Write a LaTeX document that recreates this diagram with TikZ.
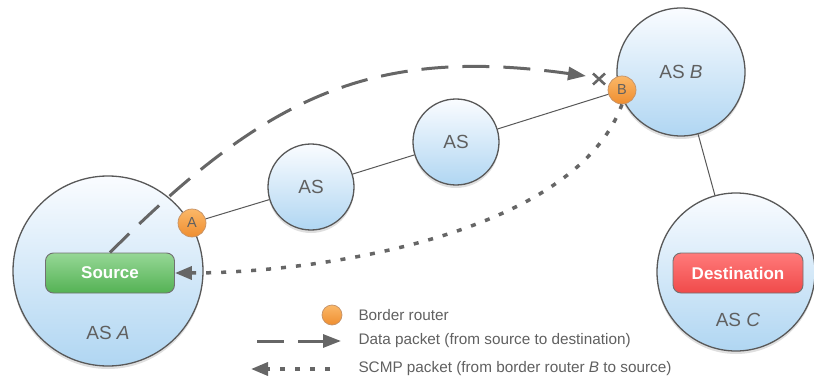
\documentclass[tikz,border=0pt]{standalone}
\usepackage{fontspec}
\setmainfont{Liberation Sans}
\usetikzlibrary{arrows.meta,calc,positioning,shadows}
\definecolor{asTop}{RGB}{250,252,255}
\definecolor{asBottom}{RGB}{176,214,242}
\definecolor{asEdge}{RGB}{88,88,88}
\definecolor{brTop}{RGB}{251,184,104}
\definecolor{brBottom}{RGB}{239,142,48}
\definecolor{brEdge}{RGB}{196,146,104}
\definecolor{srcTop}{RGB}{150,215,150}
\definecolor{srcBottom}{RGB}{84,178,84}
\definecolor{dstTop}{RGB}{255,122,122}
\definecolor{dstBottom}{RGB}{240,74,74}
\definecolor{inkGray}{RGB}{96,96,96}
\definecolor{pathGray}{RGB}{102,102,102}
\tikzset{
  asnode/.style={circle, draw=asEdge, line width=1.3pt, top color=asTop,
    bottom color=asBottom, inner sep=0pt, text=inkGray,
    font=\fontsize{19}{22}\selectfont,
    drop shadow={shadow xshift=0pt, shadow yshift=-3pt, opacity=0.25}},
  router/.style={circle, draw=brEdge, line width=0.7pt, top color=brTop,
    bottom color=brBottom, inner sep=0pt, minimum size=28pt, text=inkGray,
    font=\fontsize{14.5}{16}\selectfont},
  hostbox/.style={rectangle, rounded corners=8pt, draw=asEdge!85,
    line width=0.9pt, minimum width=129pt, minimum height=40pt, text=white,
    font=\fontsize{17}{20}\selectfont\bfseries},
  aslabel/.style={text=inkGray, font=\fontsize{19}{22}\selectfont},
  link/.style={draw=asEdge, line width=1pt},
  datapath/.style={draw=pathGray, line width=3pt, dash pattern=on 27pt off 14pt,
    -{Triangle[length=18pt,width=13pt]}},
  scmppath/.style={draw=pathGray, line width=3.5pt, dash pattern=on 5pt off 10pt,
    -{Triangle[length=17pt,width=13pt]}},
  dropmark/.style={draw=pathGray, line width=2.6pt},
  keytext/.style={anchor=west, text=inkGray, font=\fontsize{15.3}{18}\selectfont},
}
\begin{document}
\begin{tikzpicture}[x=1pt,y=1pt]
  \useasboundingbox (0,0) rectangle (814,-385);
  \node[asnode, minimum size=190pt] (asA) at (108,-271) {};
  \node[asnode, minimum size=86pt] (as1) at (311,-187) {AS};
  \node[asnode, minimum size=86pt] (as2) at (456,-142) {AS};
  \node[asnode, minimum size=128pt] (asB) at (681,-72) {AS \textit{B}};
  \node[asnode, minimum size=158pt] (asC) at (736,-272) {};
  \node[aslabel] (asAlbl) at (108,-333) {AS \textit{A}};
  \node[aslabel] (asClbl) at (738,-320) {AS \textit{C}};
  \node[hostbox, top color=srcTop, bottom color=srcBottom] (src) at (110,-273) {Source};
  \node[hostbox, top color=dstTop, bottom color=dstBottom, minimum width=130pt] (dst) at (738,-273) {Destination};
  \node[router] (rA) at (192,-223) {A};
  \node[router] (rB) at (622,-90) {B};
  \draw[link] (rA) -- (as1);
  \draw[link] (as1) -- (as2);
  \draw[link] (as2) -- (rB);
  \draw[link] (asB) -- (asC);
  \coordinate (tipend) at (586,-76);
  \coordinate (drop) at (599,-79);
  \draw[datapath] (src.north) to[out=45,in=172,looseness=1.1] (tipend);
  \draw[dropmark] ($(drop)+(-6,5.5)$) -- ($(drop)+(6,-5.5)$);
  \draw[dropmark] ($(drop)+(-6,-5.5)$) -- ($(drop)+(6,5.5)$);
  \draw[scmppath] (rB.south) to[out=-110,in=0,looseness=0.75] (src.east);
  % legend
  \node[router, minimum size=20pt] (keyrouter) at (332,-315) {};
  \node[keytext] (keyrouterlbl) at (355,-315) {Border router};
  \node[keytext] (keydatalbl) at (355,-341) {Data packet (from source to destination)};
  \node[keytext] (keyscmplbl) at (355,-369) {SCMP packet (from border router \textit{B} to source)};
  \coordinate (keydataA) at (257,-341);
  \coordinate (keydataB) at (341,-341);
  \coordinate (keyscmpA) at (330,-369);
  \coordinate (keyscmpB) at (251,-369);
  \draw[datapath] (keydataA) -- (keydataB);
  \draw[scmppath] (keyscmpA) -- (keyscmpB);
\end{tikzpicture}
\end{document}
